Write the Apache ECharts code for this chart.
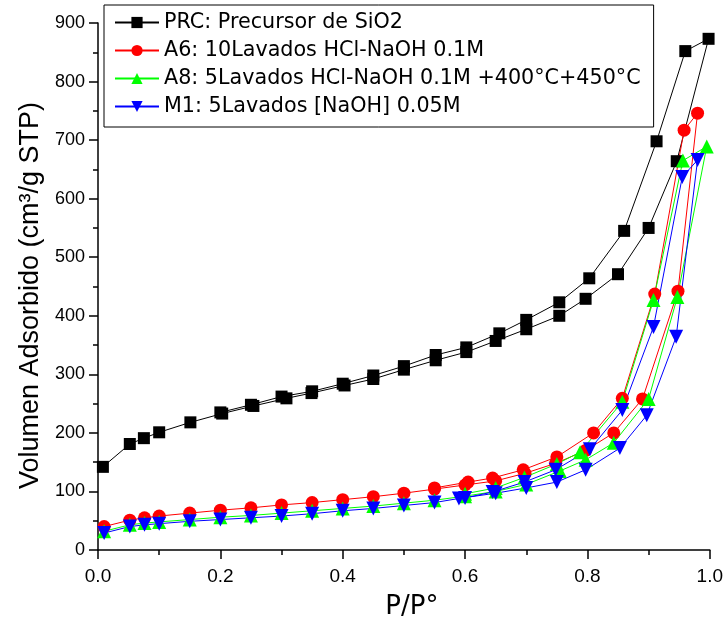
<!DOCTYPE html>
<html>
<head>
<meta charset="utf-8">
<script src="https://cdn.jsdelivr.net/npm/echarts@6/dist/echarts.min.js"></script>
<style>html,body{margin:0;padding:0;background:#fff}#c{width:726px;height:634px}</style>
</head>
<body>
<div id="c"></div>
<script>
// Tick labels
const xTicks = ['0.0', '0.2', '0.4', '0.6', '0.8', '1.0'];
const yTicks = [0, 100, 200, 300, 400, 500, 600, 700, 800, 900];

// Series names
const names = [
  'PRC: Precursor de SiO2',
  'A6: 10Lavados HCl-NaOH 0.1M',
  'A8: 5Lavados HCl-NaOH 0.1M +400°C+450°C',
  'M1: 5Lavados [NaOH] 0.05M'
];

// PRC (adsorption then desorption)
const prcP = [0.008,0.052,0.075,0.100,0.151,0.203,0.254,0.308,0.349,0.403,0.450,0.500,0.552,0.602,0.650,0.700,0.754,0.797,0.850,0.900,0.946,0.998,
              0.960,0.913,0.860,0.803,0.754,0.700,0.656,0.602,0.552,0.500,0.450,0.400,0.350,0.300,0.250,0.200];
const prcV = [142,181,191,201,218,233,246,259,268,281,292,308,324,338,357,377,400,429,471,550,664,873,
              852,698,545,464,423,393,370,346,333,314,298,284,271,262,248,235];

// A6
const a6P = [0.010,0.052,0.076,0.100,0.150,0.200,0.250,0.300,0.350,0.400,0.450,0.500,0.550,0.600,0.650,0.698,0.748,0.797,0.843,0.890,0.948,0.980,
             0.958,0.910,0.857,0.810,0.750,0.695,0.645,0.605,0.550];
const a6V = [40,51,55,58,63,68,72,77,81,86,91,97,104,111,118,131,148,170,200,258,442,746,
             717,437,259,200,159,137,123,116,106];

// A8
const a8P = [0.010,0.052,0.076,0.100,0.150,0.200,0.250,0.300,0.350,0.400,0.450,0.500,0.550,0.600,0.650,0.700,0.755,0.797,0.843,0.900,0.947,0.995,
             0.956,0.908,0.857,0.788,0.750,0.697,0.650,0.600];
const a8V = [32,43,46,48,52,56,59,63,67,71,75,80,85,92,100,112,135,154,183,258,432,689,
             665,427,253,167,147,124,106,96];

// M1
const m1P = [0.010,0.052,0.076,0.100,0.150,0.200,0.250,0.300,0.350,0.400,0.450,0.500,0.550,0.590,0.650,0.700,0.750,0.797,0.853,0.897,0.945,0.980,
             0.955,0.908,0.857,0.804,0.748,0.697,0.645,0.600];
const m1V = [29,40,43,45,49,52,55,58,62,67,71,76,81,88,97,106,116,137,174,230,364,666,
             637,381,239,172,137,116,99,89];

const zip = (a, b) => a.map((v, i) => [v, b[i]]);

function mk(name, P, V, color, symbol, size, rot) {
  return {
    name, type: 'line', data: zip(P, V),
    symbol, symbolSize: size, symbolRotate: rot || 0,
    showAllSymbol: true,
    lineStyle: { color, width: 1 },
    itemStyle: { color, borderWidth: 0 },
    emphasis: { disabled: true },
    animation: false
  };
}

const chart = echarts.init(document.getElementById('c'), null, { renderer: 'canvas' });
chart.setOption({
  animation: false,
  backgroundColor: '#fff',
  grid: { left: 98, right: 16, top: 23, bottom: 84, containLabel: false },
  legend: {
    orient: 'vertical', left: 104, top: 5,
    padding: [7, 13, 10, 10],
    itemWidth: 44, itemHeight: 14, itemGap: 7,
    borderColor: '#000', borderWidth: 1,
    textStyle: { fontFamily: 'DejaVu Sans', fontSize: 20.7, color: '#000', lineHeight: 20 },
    data: names
  },
  xAxis: {
    type: 'value', min: 0, max: 1, interval: 0.2,
    name: 'P/P°', nameLocation: 'middle', nameGap: 44,
    nameTextStyle: { fontFamily: 'DejaVu Sans', fontSize: 26, color: '#000', padding: [0, 0, 0, 16] },
    axisLine: { show: true, lineStyle: { color: '#000', width: 1.5 } },
    axisTick: { show: true, inside: false, length: 9, lineStyle: { color: '#000', width: 1.5 } },
    minorTick: { show: true, splitNumber: 2, length: 5, lineStyle: { color: '#000', width: 1.5 } },
    splitLine: { show: false },
    axisLabel: { margin: 17, fontFamily: 'Liberation Sans', fontSize: 19, color: '#000',
      formatter: v => xTicks[Math.round(v / 0.2)] }
  },
  yAxis: {
    type: 'value', min: 0, max: 900, interval: 100,
    name: 'Volumen Adsorbido (cm³/g STP)', nameLocation: 'middle', nameGap: 52,
    nameTextStyle: { fontFamily: 'Liberation Sans', fontSize: 27, color: '#000', padding: [0, 18, 0, 0] },
    axisLine: { show: true, lineStyle: { color: '#000', width: 1.5 } },
    axisTick: { show: true, inside: false, length: 9, lineStyle: { color: '#000', width: 1.5 } },
    minorTick: { show: true, splitNumber: 2, length: 5, lineStyle: { color: '#000', width: 1.5 } },
    splitLine: { show: false },
    axisLabel: { margin: 13, fontFamily: 'Liberation Sans', fontSize: 18, color: '#000',
      formatter: v => String(yTicks[Math.round(v / 100)]) }
  },
  series: [
    mk(names[0], prcP, prcV, '#000000', 'rect', 12),
    mk(names[1], a6P, a6V, '#ff0000', 'circle', 13),
    mk(names[2], a8P, a8V, '#00ff00', 'triangle', 14),
    mk(names[3], m1P, m1V, '#0000ff', 'triangle', 14, 180)
  ]
});
</script>
</body>
</html>
